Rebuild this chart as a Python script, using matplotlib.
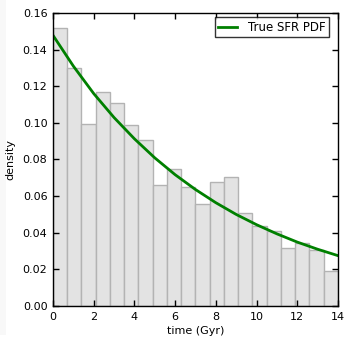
import numpy as np
import matplotlib
matplotlib.use("Agg")
import matplotlib.pyplot as plt
from matplotlib.patches import Rectangle

# histogram of sampled times (density), 20 bins over 0-14 Gyr
bin_edges = np.linspace(0, 14, 21)
density = [0.152, 0.130, 0.0995, 0.117, 0.111, 0.099, 0.0905, 0.066, 0.0747, 0.0648,
           0.0557, 0.0677, 0.0705, 0.0506, 0.0437, 0.0408, 0.0318, 0.0346, 0.0304, 0.0193]

# true SFR pdf, every 1 Gyr
pdf_t = [0, 1, 2, 3, 4, 5, 6, 7, 8, 9, 10, 11, 12, 13, 14]
pdf_y = [0.1478, 0.1310, 0.1160, 0.1029, 0.0913, 0.0809, 0.0717, 0.0636, 0.0564,
         0.0500, 0.0444, 0.0394, 0.0349, 0.0310, 0.0275]

plt.rcParams['font.family'] = 'DejaVu Sans'
plt.rcParams['font.size'] = 8

fig = plt.figure(figsize=(3.45, 3.39), dpi=100)
# faint grey strip on the left edge of the original image
fig.patches.append(Rectangle((0, 4 / 339), 6 / 345, 1, transform=fig.transFigure,
                             facecolor='#f8f8f8', edgecolor='none', zorder=-1))
ax = fig.add_axes([0.1536, 0.0973, 0.8261, 0.8644])

widths = np.diff(bin_edges)
ax.bar(bin_edges[:-1], density, width=widths, align='edge',
       facecolor='#e3e3e3', edgecolor='#b3b3b3', linewidth=1)
ax.plot(pdf_t, pdf_y, color='g', lw=2, label='True SFR PDF')

ax.set_xlim(0, 14)
ax.set_ylim(0, 0.16)
ax.set_xticks(np.arange(0, 15, 2))
ax.set_yticks(np.arange(0, 0.161, 0.02))
ax.set_xlabel('time (Gyr)', labelpad=3)
ax.set_ylabel('density', labelpad=5)
ax.tick_params(direction='in', top=True, right=True, length=4, width=1, labelsize=8, pad=4)
for s in ax.spines.values():
    s.set_linewidth(1)

leg = ax.legend(loc='upper right', bbox_to_anchor=(0.968, 0.985), borderaxespad=0,
                fancybox=False, fontsize=8.5, handlelength=1.6, handletextpad=0.9,
                borderpad=0.3)
leg.get_frame().set_edgecolor('black')
leg.get_frame().set_linewidth(1)

fig.savefig('out.png', dpi=100)
